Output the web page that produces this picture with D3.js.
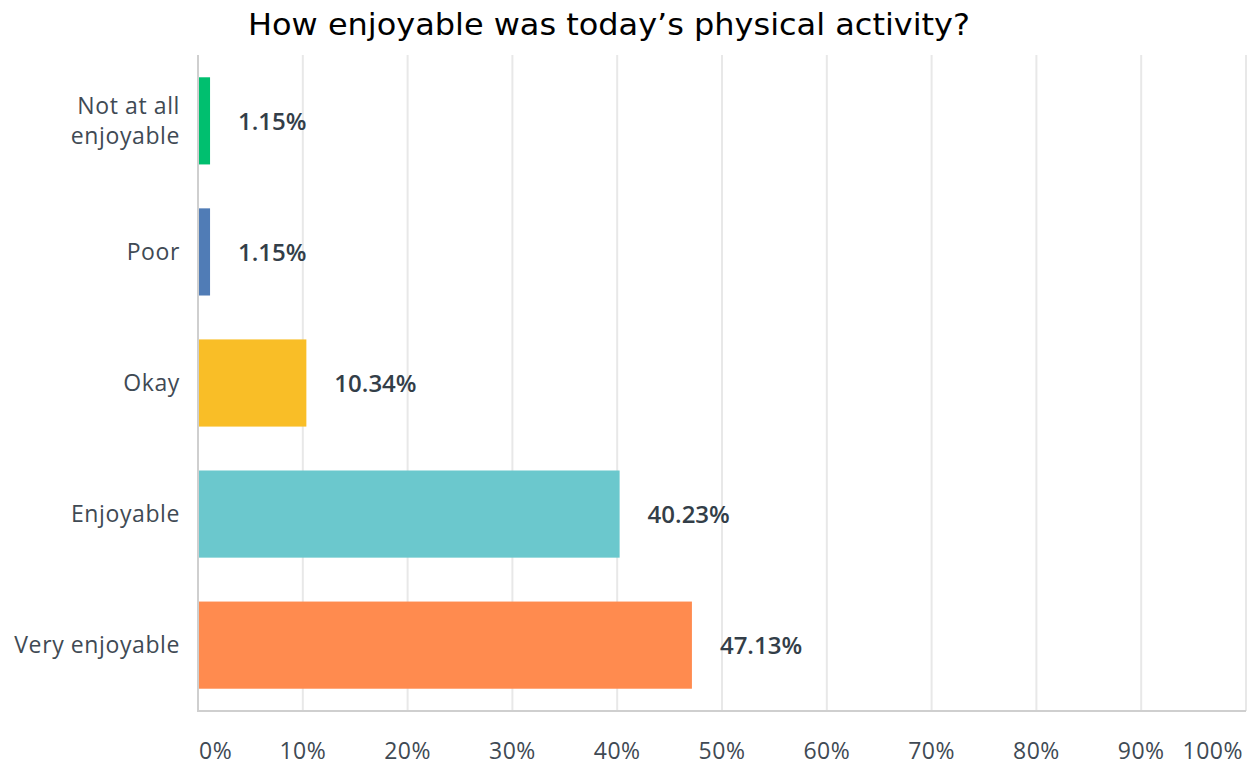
<!DOCTYPE html>
<html><head><meta charset="utf-8">
<script src="https://cdn.jsdelivr.net/npm/d3@7"></script>
<style>body{margin:0;background:#fff}</style>
</head><body>
<script>
const title = "How enjoyable was today\u2019s physical activity?";
const categories = ["Not at all enjoyable","Poor","Okay","Enjoyable","Very enjoyable"];
const categoryLines = [["Not at all","enjoyable"],["Poor"],["Okay"],["Enjoyable"],["Very enjoyable"]];
const values = [1.15, 1.15, 10.34, 40.23, 47.13];
const colors = ["#00bf6f","#507cb6","#f9be27","#6bc8cd","#ff8b4f"];
const ticks = [0,10,20,30,40,50,60,70,80,90,100];

const W=1254,H=765;
const m={left:198,right:8,top:55,bottom:54};
const svg=d3.select("body").append("svg").attr("width",W).attr("height",H);
const x=d3.scaleLinear().domain([0,100]).range([m.left,W-m.right]);
const y=d3.scaleBand().domain(categories).range([m.top,H-m.bottom]).paddingInner(0.335).paddingOuter(0.17);

svg.append("text").attr("x",609).attr("y",35).attr("text-anchor","middle")
  .attr("textLength",722).attr("lengthAdjust","spacingAndGlyphs")
  .style("font-family","DejaVu Sans").style("font-size","31px").attr("fill","#000").text(title);

// grid
svg.append("g").selectAll("line").data(ticks.slice(1)).join("line")
  .attr("x1",d=>x(d)).attr("x2",d=>x(d)).attr("y1",m.top).attr("y2",H-m.bottom)
  .attr("stroke","#e8e8e8").attr("stroke-width",2);
// axis lines
svg.append("line").attr("x1",x(0)).attr("x2",x(0)).attr("y1",m.top).attr("y2",H-m.bottom+1).attr("stroke","#cfcfcf").attr("stroke-width",2);
svg.append("line").attr("x1",x(0)).attr("x2",x(100)).attr("y1",H-m.bottom).attr("y2",H-m.bottom).attr("stroke","#cfcfcf").attr("stroke-width",2);

// tick labels
svg.append("g").selectAll("text").data(ticks).join("text")
  .attr("x",(d,i)=> i===0 ? x(d)+1 : (i===ticks.length-1 ? x(d)-3 : x(d)))
  .attr("y",759)
  .attr("text-anchor",(d,i)=> i===0?"start":(i===ticks.length-1?"end":"middle"))
  .style("font-family","Open Sans").style("font-size","23px").style("letter-spacing","0.5px").attr("fill","#3f4a54")
  .text(d=>d+"%");

// bars
svg.append("g").selectAll("rect").data(values).join("rect")
  .attr("x",x(0)+1).attr("y",(d,i)=>y(categories[i]))
  .attr("width",d=>x(d)-x(0)-1).attr("height",y.bandwidth())
  .attr("fill",(d,i)=>colors[i]);

// value labels
svg.append("g").selectAll("text").data(values).join("text")
  .attr("x",d=>x(d)+28).attr("y",(d,i)=>y(categories[i])+y.bandwidth()/2+9)
  .style("font-family","Open Sans").style("font-weight","600").style("font-size","24px")
  .attr("fill","#333e48").text(d=>d.toFixed(2)+"%");

// category labels
const cl=svg.append("g").selectAll("text").data(categoryLines).join("text")
  .attr("text-anchor","end")
  .style("font-family","Open Sans").style("font-size","23px").style("letter-spacing","0.6px").attr("fill","#3f4a54");
cl.each(function(lines,i){
  const cy=y(categories[i])+y.bandwidth()/2;
  const t=d3.select(this);
  const lh=30;
  lines.forEach((l,j)=>{
    t.append("tspan").attr("x",180).attr("y",cy+8+(j-(lines.length-1)/2)*lh).text(l);
  });
});
</script>
</body></html>
